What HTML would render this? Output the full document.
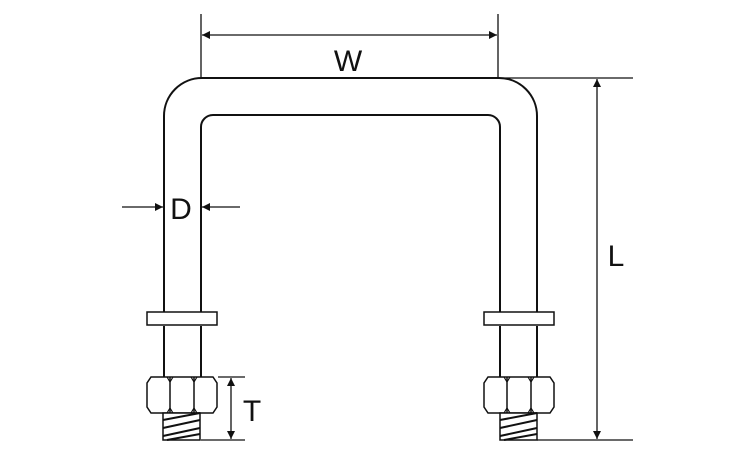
<!DOCTYPE html>
<html><head><style>body{margin:0;background:#fff}svg{display:block}</style></head>
<body>
<svg width="750" height="450" viewBox="0 0 750 450" xmlns="http://www.w3.org/2000/svg">
<defs>
<marker id="a" viewBox="0 0 10 10" refX="10" refY="5" markerWidth="14" markerHeight="8" markerUnits="userSpaceOnUse" orient="auto"><path d="M0,0 L10,5 L0,10 Z" fill="#111"/></marker>
<g id="nut">
<rect x="0" y="0" width="70" height="13" fill="#fff" stroke="#111" stroke-width="1.5"/>
<path d="M4,65 L66,65 L70,71 L70,95 L66,101 L4,101 L0,95 L0,71 Z" fill="#fff" stroke="#111" stroke-width="1.5"/>
<line x1="23" y1="65" x2="23" y2="101" stroke="#111" stroke-width="1.5"/>
<line x1="47" y1="65" x2="47" y2="101" stroke="#111" stroke-width="1.5"/>
<path d="M20,65 L23,70 L26,65 M44,65 L47,70 L50,65 M20,101 L23,96 L26,101 M44,101 L47,96 L50,101" fill="none" stroke="#111" stroke-width="1.2"/>
<rect x="16" y="101" width="37" height="27" fill="#fff" stroke="#111" stroke-width="1.5"/>
<path d="M16,108 L53,101 M16,116 L53,108 M16,124 L53,116 M20,128 L53,122" stroke="#111" stroke-width="2"/>
</g>
</defs>
<g fill="none" stroke="#111" stroke-width="2">
<path d="M164,312 L164,116 A38,38 0 0 1 202,78 L499,78 A38,38 0 0 1 537,116 L537,312"/>
<path d="M201,312 L201,127 A12,12 0 0 1 213,115 L488,115 A12,12 0 0 1 500,127 L500,312"/>
<path d="M164,326 V377 M201,326 V377 M500,326 V377 M537,326 V377"/>
</g>
<use href="#nut" x="147" y="312"/>
<use href="#nut" x="484" y="312"/>
<g stroke="#111" stroke-width="1.3" fill="none">
<line x1="201" y1="14" x2="201" y2="78"/>
<line x1="498" y1="14" x2="498" y2="78"/>
<line x1="350" y1="35" x2="202" y2="35" marker-end="url(#a)"/>
<line x1="350" y1="35" x2="497" y2="35" marker-end="url(#a)"/>
<line x1="500" y1="78" x2="633" y2="78"/>
<line x1="537" y1="440" x2="633" y2="440"/>
<line x1="597" y1="260" x2="597" y2="79" marker-end="url(#a)"/>
<line x1="597" y1="260" x2="597" y2="439" marker-end="url(#a)"/>
<line x1="122" y1="207" x2="163" y2="207" marker-end="url(#a)"/>
<line x1="240" y1="207" x2="202" y2="207" marker-end="url(#a)"/>
<line x1="218" y1="377" x2="245" y2="377"/>
<line x1="201" y1="440" x2="245" y2="440"/>
<line x1="231" y1="408" x2="231" y2="378" marker-end="url(#a)"/>
<line x1="231" y1="408" x2="231" y2="439" marker-end="url(#a)"/>
</g>
<g font-family="Liberation Sans, sans-serif" font-size="30" fill="#111" text-anchor="middle">
<text x="348" y="71">W</text>
<text x="181" y="219">D</text>
<text x="616" y="266">L</text>
<text x="252" y="421">T</text>
</g>
</svg>
</body></html>
